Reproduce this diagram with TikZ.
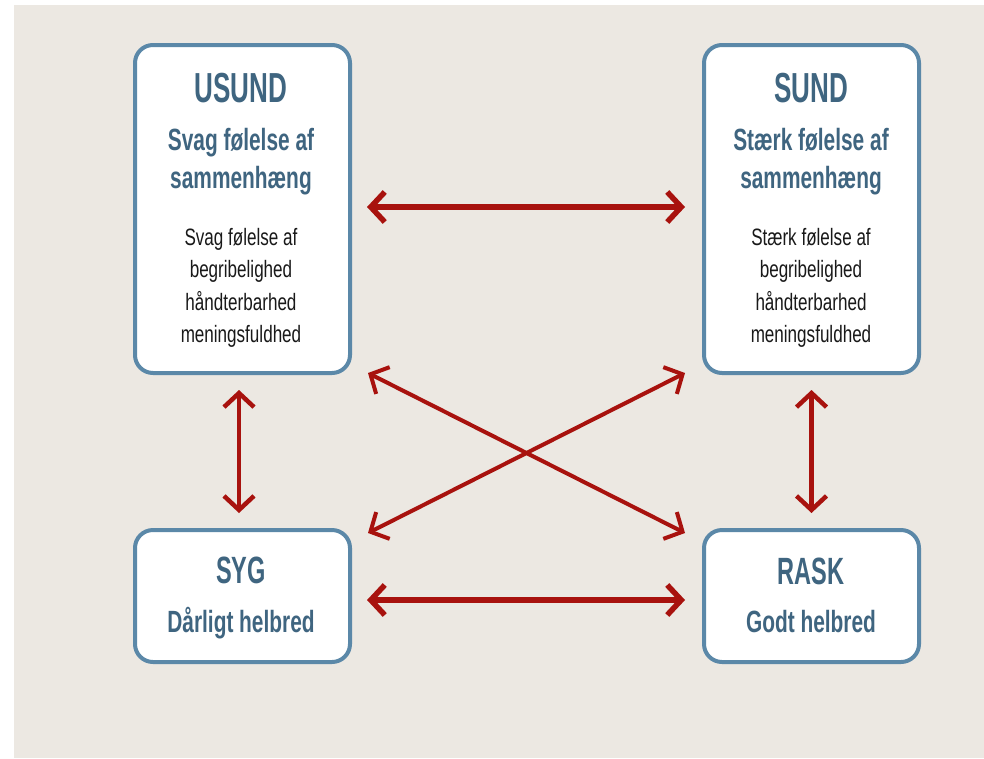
\documentclass[tikz,border=0pt]{standalone}
\usepackage{fontspec}
\usetikzlibrary{arrows.meta}
\setmainfont{Liberation Sans}
\newfontfamily\titlefont[FakeStretch=0.62]{Liberation Sans}
\newfontfamily\subfont[FakeStretch=0.68]{Liberation Sans}
\newfontfamily\bodyfont[FakeStretch=0.72]{Liberation Sans}
\definecolor{bgbeige}{HTML}{ECE8E2}
\definecolor{boxblue}{HTML}{5B88A8}
\definecolor{textblue}{HTML}{3F6580}
\definecolor{arrred}{HTML}{A8120E}
\tikzset{
  box/.style={draw=boxblue, line width=4pt, fill=white, rounded corners=18pt, minimum width=215pt, inner sep=0pt},
  tbig/.style={anchor=base, text=textblue, font=\titlefont\bfseries\fontsize{42}{42}\selectfont, inner sep=0pt},
  tbigs/.style={anchor=base, text=textblue, font=\titlefont\bfseries\fontsize{38}{38}\selectfont, inner sep=0pt},
  tsub/.style={anchor=base, text=textblue, font=\subfont\bfseries\fontsize{30.7}{30.7}\selectfont, inner sep=0pt},
  tbody/.style={anchor=base, text=black!90, font=\bodyfont\fontsize{23.7}{23.7}\selectfont, inner sep=0pt},
  arr/.style={draw=arrred, line width=#1, {Straight Barb[length=14pt,width=30pt]}-{Straight Barb[length=14pt,width=30pt]}},
}
\begin{document}
\begin{tikzpicture}[x=1pt,y=-1pt]
\fill[white] (0,0) rectangle (984,758);
\fill[bgbeige] (14,5) rectangle (984,758);
\useasboundingbox (0,0) rectangle (984,758);

% boxes
\node[box, minimum height=328pt] (usund) at (242.5,209) {};
\node[box, minimum height=328pt] (sund) at (811.5,209) {};
\node[box, minimum height=132pt] (syg) at (242.5,596) {};
\node[box, minimum height=132pt] (rask) at (811.5,596) {};

% USUND text
\node[tbig] (ut) at (241,102) {USUND};
\node[tsub] (us1) at (241,150) {Svag følelse af};
\node[tsub] (us2) at (241,188) {sammenhæng};
\node[tbody] (ub1) at (241,245) {Svag følelse af};
\node[tbody] (ub2) at (241,277.5) {begribelighed};
\node[tbody] (ub3) at (241,310) {håndterbarhed};
\node[tbody] (ub4) at (241,342) {meningsfuldhed};

% SUND text
\node[tbig] (st) at (811,102) {SUND};
\node[tsub] (ss1) at (811,150) {Stærk følelse af};
\node[tsub] (ss2) at (811,188) {sammenhæng};
\node[tbody] (sb1) at (811,245) {Stærk følelse af};
\node[tbody] (sb2) at (811,277.5) {begribelighed};
\node[tbody] (sb3) at (811,310) {håndterbarhed};
\node[tbody] (sb4) at (811,342) {meningsfuldhed};

% SYG text
\node[tbigs] (yt) at (241,583) {SYG};
\node[tsub] (ys) at (241,632) {Dårligt helbred};

% RASK text
\node[tbigs] (rt) at (811,584) {RASK};
\node[tsub] (rs) at (811,632) {Godt helbred};

% arrows between boxes
\draw[arr=5.5pt, shorten <=15pt, shorten >=17pt] ([yshift=2pt]usund.east) -- ([yshift=2pt]sund.west);
\draw[arr=5.5pt, shorten <=15pt, shorten >=17pt] ([yshift=-4pt]syg.east) -- ([yshift=-4pt]rask.west);
\draw[arr=4.5pt, shorten <=15pt, shorten >=15pt] ([xshift=-3.5pt]usund.south) -- ([xshift=-3.5pt]syg.north);
\draw[arr=4.5pt, shorten <=15pt, shorten >=15pt] (sund.south) -- (rask.north);

% diagonal arrows (free ends)
\coordinate (d1a) at (368,373);
\coordinate (d1b) at (685,533);
\coordinate (d2a) at (368,533);
\coordinate (d2b) at (685,373);
\draw[arr=4pt] (d1a) -- (d1b);
\draw[arr=4pt] (d2a) -- (d2b);
\end{tikzpicture}
\end{document}
